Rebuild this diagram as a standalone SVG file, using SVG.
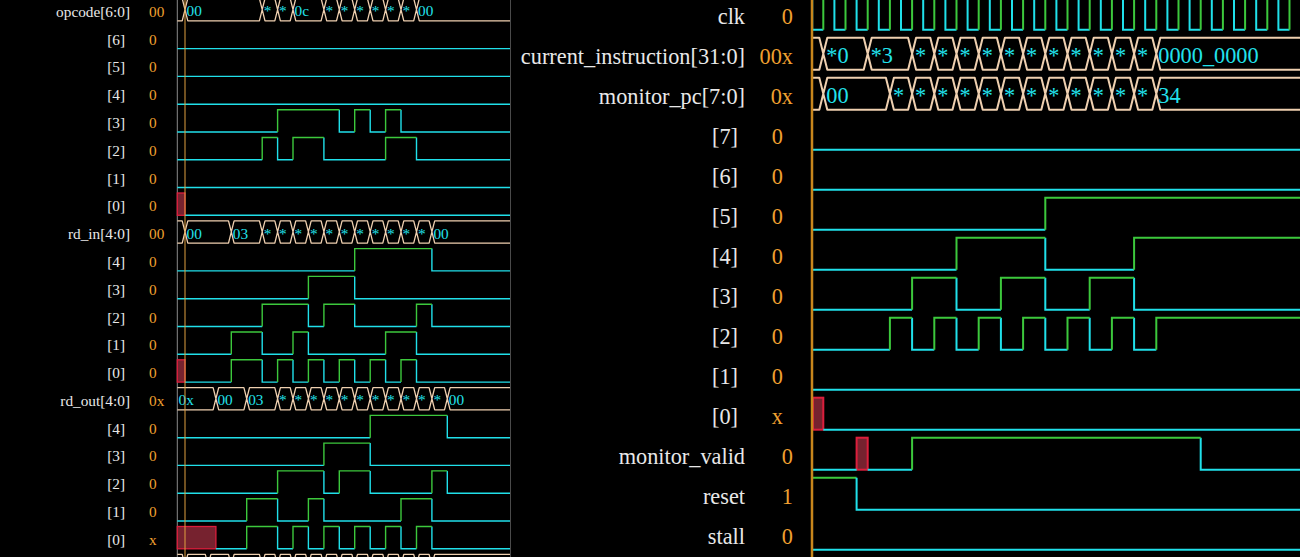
<svg xmlns="http://www.w3.org/2000/svg" width="1300" height="557" viewBox="0 0 1300 557">
<style>
.lbl{font-family:"Liberation Serif","Times New Roman",serif;fill:#e8e8e8}
.val{font-family:"Liberation Serif","Times New Roman",serif;fill:#f0a030}
.bt{font-family:"Liberation Serif","Times New Roman",serif;fill:#22e2ec}
.s{font-size:15.3px}
.b{font-size:22.3px}
.lo{fill:none;stroke:#20e0ea;stroke-linejoin:miter}
.hi{fill:none;stroke:#3cc83c;stroke-linejoin:miter}
.bus{fill:none;stroke:#efd0b0;stroke-linejoin:round}
.xx{fill:#76222f;stroke:#dc1e3c}
.L .lo,.L .hi{stroke-width:1.4}
.L .bus{stroke-width:1.3}
.L .xx{stroke-width:1.3}
.R .lo,.R .hi{stroke-width:2}
.R .bus{stroke-width:2}
.R .xx{stroke-width:2}
</style>
<rect width="1300" height="557" fill="#000"/>

<!-- LEFT PANEL -->
<g id="left-panel" class="L">
  <line x1="177.3" y1="0" x2="177.3" y2="557" stroke="#8a8a8a" stroke-width="1"/>
  <line x1="510.5" y1="0" x2="510.5" y2="557" stroke="#4a4a4a" stroke-width="1"/>

  <g id="opcode">
    <text class="lbl s" x="130" y="16.8" text-anchor="end">opcode[6:0]</text>
    <text class="val s" x="149" y="16.8">00</text>
    <path class="bus" d="M177.3 -1.5H182.2l2.8 11.15l2.8 -11.15H259.4l2.8 11.15l2.8 -11.15H274.8l2.8 11.15l2.8 -11.15H290.2l2.8 11.15l2.8 -11.15H321.1l2.8 11.15l2.8 -11.15H336.5l2.8 11.15l2.8 -11.15H351.9l2.8 11.15l2.8 -11.15H367.4l2.8 11.15l2.8 -11.15H382.8l2.8 11.15l2.8 -11.15H398.2l2.8 11.15l2.8 -11.15H413.7l2.8 11.15l2.8 -11.15H510 M177.3 20.8H182.2l2.8 -11.15l2.8 11.15H259.4l2.8 -11.15l2.8 11.15H274.8l2.8 -11.15l2.8 11.15H290.2l2.8 -11.15l2.8 11.15H321.1l2.8 -11.15l2.8 11.15H336.5l2.8 -11.15l2.8 11.15H351.9l2.8 -11.15l2.8 11.15H367.4l2.8 -11.15l2.8 11.15H382.8l2.8 -11.15l2.8 11.15H398.2l2.8 -11.15l2.8 11.15H413.7l2.8 -11.15l2.8 11.15H510"/>
    <g class="bt s">
      <text x="186.5" y="16.2">00</text><text x="263.7" y="16.2">*</text><text x="279.1" y="16.2">*</text><text x="294.5" y="16.2">0c</text>
      <text x="325.4" y="16.2">*</text><text x="340.8" y="16.2">*</text><text x="356.2" y="16.2">*</text><text x="371.7" y="16.2">*</text><text x="387.1" y="16.2">*</text><text x="402.5" y="16.2">*</text><text x="418" y="16.2">00</text>
    </g>
  </g>
  <g id="opcode-6"><text class="lbl s" x="125" y="44.6" text-anchor="end">[6]</text><text class="val s" x="149" y="44.6">0</text><path class="lo" d="M177.3 48.6H510"/></g>
  <g id="opcode-5"><text class="lbl s" x="125" y="72.4" text-anchor="end">[5]</text><text class="val s" x="149" y="72.4">0</text><path class="lo" d="M177.3 76.4H510"/></g>
  <g id="opcode-4"><text class="lbl s" x="125" y="100.2" text-anchor="end">[4]</text><text class="val s" x="149" y="100.2">0</text><path class="lo" d="M177.3 104.2H510"/></g>
  <g id="opcode-3"><text class="lbl s" x="125" y="128" text-anchor="end">[3]</text><text class="val s" x="149" y="128">0</text>
    <path class="lo" d="M177.3 132H277.6M339.3 109.7V132H354.7M370.2 109.7V132H385.6M401 109.7V132H510"/>
    <path class="hi" d="M277.6 132V109.7H339.3M354.7 132V109.7H370.2M385.6 132V109.7H401"/></g>
  <g id="opcode-2"><text class="lbl s" x="125" y="155.8" text-anchor="end">[2]</text><text class="val s" x="149" y="155.8">0</text>
    <path class="lo" d="M177.3 159.8H262.2M277.6 137.5V159.8H293M323.9 137.5V159.8H385.6M416.5 137.5V159.8H510"/>
    <path class="hi" d="M262.2 159.8V137.5H277.6M293 159.8V137.5H323.9M385.6 159.8V137.5H416.5"/></g>
  <g id="opcode-1"><text class="lbl s" x="125" y="183.5" text-anchor="end">[1]</text><text class="val s" x="149" y="183.5">0</text><path class="lo" d="M177.3 187.5H510"/></g>
  <g id="opcode-0"><text class="lbl s" x="125" y="211.3" text-anchor="end">[0]</text><text class="val s" x="149" y="211.3">0</text>
    <rect class="xx" x="177.3" y="193" width="7.7" height="22.3"/><path class="lo" d="M185 215.3H510"/></g>

  <g id="rd_in">
    <text class="lbl s" x="130" y="239.1" text-anchor="end">rd_in[4:0]</text>
    <text class="val s" x="149" y="239.1">00</text>
    <path class="bus" d="M177.3 220.8H182.2l2.8 11.15l2.8 -11.15H228.5l2.8 11.15l2.8 -11.15H259.4l2.8 11.15l2.8 -11.15H274.8l2.8 11.15l2.8 -11.15H290.2l2.8 11.15l2.8 -11.15H305.6l2.8 11.15l2.8 -11.15H321.1l2.8 11.15l2.8 -11.15H336.5l2.8 11.15l2.8 -11.15H351.9l2.8 11.15l2.8 -11.15H367.4l2.8 11.15l2.8 -11.15H382.8l2.8 11.15l2.8 -11.15H398.2l2.8 11.15l2.8 -11.15H413.7l2.8 11.15l2.8 -11.15H429.1l2.8 11.15l2.8 -11.15H510 M177.3 243.1H182.2l2.8 -11.15l2.8 11.15H228.5l2.8 -11.15l2.8 11.15H259.4l2.8 -11.15l2.8 11.15H274.8l2.8 -11.15l2.8 11.15H290.2l2.8 -11.15l2.8 11.15H305.6l2.8 -11.15l2.8 11.15H321.1l2.8 -11.15l2.8 11.15H336.5l2.8 -11.15l2.8 11.15H351.9l2.8 -11.15l2.8 11.15H367.4l2.8 -11.15l2.8 11.15H382.8l2.8 -11.15l2.8 11.15H398.2l2.8 -11.15l2.8 11.15H413.7l2.8 -11.15l2.8 11.15H429.1l2.8 -11.15l2.8 11.15H510"/>
    <g class="bt s">
      <text x="186.5" y="238.5">00</text><text x="232.8" y="238.5">03</text>
      <text x="263.7" y="238.5">*</text><text x="279.1" y="238.5">*</text><text x="294.5" y="238.5">*</text><text x="309.9" y="238.5">*</text><text x="325.4" y="238.5">*</text><text x="340.8" y="238.5">*</text><text x="356.2" y="238.5">*</text><text x="371.7" y="238.5">*</text><text x="387.1" y="238.5">*</text><text x="402.5" y="238.5">*</text><text x="418" y="238.5">*</text>
      <text x="433.4" y="238.5">00</text>
    </g>
  </g>
  <g id="rd_in-4"><text class="lbl s" x="125" y="266.9" text-anchor="end">[4]</text><text class="val s" x="149" y="266.9">0</text>
    <path class="lo" d="M177.3 270.9H354.7M431.9 248.6V270.9H510"/>
    <path class="hi" d="M354.7 270.9V248.6H431.9"/></g>
  <g id="rd_in-3"><text class="lbl s" x="125" y="294.7" text-anchor="end">[3]</text><text class="val s" x="149" y="294.7">0</text>
    <path class="lo" d="M177.3 298.7H308.4M354.7 276.4V298.7H510"/>
    <path class="hi" d="M308.4 298.7V276.4H354.7"/></g>
  <g id="rd_in-2"><text class="lbl s" x="125" y="322.5" text-anchor="end">[2]</text><text class="val s" x="149" y="322.5">0</text>
    <path class="lo" d="M177.3 326.5H262.2M308.4 304.2V326.5H323.9M354.7 304.2V326.5H416.5M431.9 304.2V326.5H510"/>
    <path class="hi" d="M262.2 326.5V304.2H308.4M323.9 326.5V304.2H354.7M416.5 326.5V304.2H431.9"/></g>
  <g id="rd_in-1"><text class="lbl s" x="125" y="350.3" text-anchor="end">[1]</text><text class="val s" x="149" y="350.3">0</text>
    <path class="lo" d="M177.3 354.3H231.3M262.2 332V354.3H293M308.4 332V354.3H385.6M416.5 332V354.3H510"/>
    <path class="hi" d="M231.3 354.3V332H262.2M293 354.3V332H308.4M385.6 354.3V332H416.5"/></g>
  <g id="rd_in-0"><text class="lbl s" x="125" y="378.1" text-anchor="end">[0]</text><text class="val s" x="149" y="378.1">0</text>
    <rect class="xx" x="177.3" y="359.8" width="7.7" height="22.3"/>
    <path class="lo" d="M185 382.1H231.3M262.2 359.8V382.1H277.6M293 359.8V382.1H308.4M323.9 359.8V382.1H339.3M354.7 359.8V382.1H370.2M385.6 359.8V382.1H401M416.5 359.8V382.1H510"/>
    <path class="hi" d="M231.3 382.1V359.8H262.2M277.6 382.1V359.8H293M308.4 382.1V359.8H323.9M339.3 382.1V359.8H354.7M370.2 382.1V359.8H385.6M401 382.1V359.8H416.5"/></g>

  <g id="rd_out">
    <text class="lbl s" x="130" y="405.9" text-anchor="end">rd_out[4:0]</text>
    <text class="val s" x="149" y="405.9">0x</text>
    <path class="bus" d="M177.3 387.6H213.1l2.8 11.15l2.8 -11.15H243.9l2.8 11.15l2.8 -11.15H274.8l2.8 11.15l2.8 -11.15H290.2l2.8 11.15l2.8 -11.15H305.6l2.8 11.15l2.8 -11.15H321.1l2.8 11.15l2.8 -11.15H336.5l2.8 11.15l2.8 -11.15H351.9l2.8 11.15l2.8 -11.15H367.4l2.8 11.15l2.8 -11.15H382.8l2.8 11.15l2.8 -11.15H398.2l2.8 11.15l2.8 -11.15H413.7l2.8 11.15l2.8 -11.15H429.1l2.8 11.15l2.8 -11.15H444.5l2.8 11.15l2.8 -11.15H510 M177.3 409.9H213.1l2.8 -11.15l2.8 11.15H243.9l2.8 -11.15l2.8 11.15H274.8l2.8 -11.15l2.8 11.15H290.2l2.8 -11.15l2.8 11.15H305.6l2.8 -11.15l2.8 11.15H321.1l2.8 -11.15l2.8 11.15H336.5l2.8 -11.15l2.8 11.15H351.9l2.8 -11.15l2.8 11.15H367.4l2.8 -11.15l2.8 11.15H382.8l2.8 -11.15l2.8 11.15H398.2l2.8 -11.15l2.8 11.15H413.7l2.8 -11.15l2.8 11.15H429.1l2.8 -11.15l2.8 11.15H444.5l2.8 -11.15l2.8 11.15H510"/>
    <g class="bt s">
      <text x="178.5" y="405.3">0x</text><text x="217.4" y="405.3">00</text><text x="248.2" y="405.3">03</text>
      <text x="279.1" y="405.3">*</text><text x="294.5" y="405.3">*</text><text x="309.9" y="405.3">*</text><text x="325.4" y="405.3">*</text><text x="340.8" y="405.3">*</text><text x="356.2" y="405.3">*</text><text x="371.7" y="405.3">*</text><text x="387.1" y="405.3">*</text><text x="402.5" y="405.3">*</text><text x="418" y="405.3">*</text><text x="433.4" y="405.3">*</text>
      <text x="448.8" y="405.3">00</text>
    </g>
  </g>
  <g id="rd_out-4"><text class="lbl s" x="125" y="433.7" text-anchor="end">[4]</text><text class="val s" x="149" y="433.7">0</text>
    <path class="lo" d="M177.3 437.7H370.2M447.3 415.4V437.7H510"/>
    <path class="hi" d="M370.2 437.7V415.4H447.3"/></g>
  <g id="rd_out-3"><text class="lbl s" x="125" y="461.4" text-anchor="end">[3]</text><text class="val s" x="149" y="461.4">0</text>
    <path class="lo" d="M177.3 465.4H323.9M370.2 443.1V465.4H510"/>
    <path class="hi" d="M323.9 465.4V443.1H370.2"/></g>
  <g id="rd_out-2"><text class="lbl s" x="125" y="489.2" text-anchor="end">[2]</text><text class="val s" x="149" y="489.2">0</text>
    <path class="lo" d="M177.3 493.2H277.6M323.9 470.9V493.2H339.3M370.2 470.9V493.2H431.9M447.3 470.9V493.2H510"/>
    <path class="hi" d="M277.6 493.2V470.9H323.9M339.3 493.2V470.9H370.2M431.9 493.2V470.9H447.3"/></g>
  <g id="rd_out-1"><text class="lbl s" x="125" y="517" text-anchor="end">[1]</text><text class="val s" x="149" y="517">0</text>
    <path class="lo" d="M177.3 521H246.7M277.6 498.7V521H308.4M323.9 498.7V521H401M431.9 498.7V521H510"/>
    <path class="hi" d="M246.7 521V498.7H277.6M308.4 521V498.7H323.9M401 521V498.7H431.9"/></g>
  <g id="rd_out-0"><text class="lbl s" x="125" y="544.8" text-anchor="end">[0]</text><text class="val s" x="149" y="544.8">x</text>
    <rect class="xx" x="177.3" y="526.5" width="38.6" height="22.3"/>
    <path class="lo" d="M215.9 548.8H246.7M277.6 526.5V548.8H293M308.4 526.5V548.8H323.9M339.3 526.5V548.8H354.7M370.2 526.5V548.8H385.6M401 526.5V548.8H416.5M431.9 526.5V548.8H510"/>
    <path class="hi" d="M246.7 548.8V526.5H277.6M293 548.8V526.5H308.4M323.9 548.8V526.5H339.3M354.7 548.8V526.5H370.2M385.6 548.8V526.5H401M416.5 548.8V526.5H431.9"/></g>
  <g id="next-bus">
    <path class="bus" d="M177.3 554.3H182.2l2.8 11.15l2.8 -11.15H205.3l2.8 11.15l2.8 -11.15H228.5l2.8 11.15l2.8 -11.15H259.4l2.8 11.15l2.8 -11.15H274.8l2.8 11.15l2.8 -11.15H290.2l2.8 11.15l2.8 -11.15H305.6l2.8 11.15l2.8 -11.15H321.1l2.8 11.15l2.8 -11.15H336.5l2.8 11.15l2.8 -11.15H351.9l2.8 11.15l2.8 -11.15H367.4l2.8 11.15l2.8 -11.15H382.8l2.8 11.15l2.8 -11.15H398.2l2.8 11.15l2.8 -11.15H413.7l2.8 11.15l2.8 -11.15H429.1l2.8 11.15l2.8 -11.15H510"/>
  </g>
  <line x1="185" y1="0" x2="185" y2="557" stroke="#e0a040" stroke-width="1"/>
</g>

<!-- RIGHT PANEL -->
<g id="right-panel" class="R">
  <g id="clk">
    <text class="lbl b" x="745" y="24.2" text-anchor="end">clk</text>
    <text class="val b" x="793" y="24.2" text-anchor="end">0</text>
    <path class="lo" d="M812.2 -2.3V29.7H823.3M834.4 -2.3V29.7H845.5M856.6 -2.3V29.7H867.7M878.8 -2.3V29.7H889.9M901 -2.3V29.7H912.1M923.2 -2.3V29.7H934.3M945.4 -2.3V29.7H956.5M967.6 -2.3V29.7H978.7M989.8 -2.3V29.7H1000.9M1012 -2.3V29.7H1023.1M1034.2 -2.3V29.7H1045.3M1056.4 -2.3V29.7H1067.5M1078.6 -2.3V29.7H1089.7M1100.8 -2.3V29.7H1111.9M1123 -2.3V29.7H1134.1M1145.2 -2.3V29.7H1156.3M1167.4 -2.3V29.7H1178.5M1189.6 -2.3V29.7H1200.7M1211.8 -2.3V29.7H1222.9M1234 -2.3V29.7H1245.1M1256.2 -2.3V29.7H1267.3M1278.4 -2.3V29.7H1289.5"/>
    <path class="hi" d="M823.3 29.7V-2.3M845.5 29.7V-2.3M867.7 29.7V-2.3M889.9 29.7V-2.3M912.1 29.7V-2.3M934.3 29.7V-2.3M956.5 29.7V-2.3M978.7 29.7V-2.3M1000.9 29.7V-2.3M1023.1 29.7V-2.3M1045.3 29.7V-2.3M1067.5 29.7V-2.3M1089.7 29.7V-2.3M1111.9 29.7V-2.3M1134.1 29.7V-2.3M1156.3 29.7V-2.3M1178.5 29.7V-2.3M1200.7 29.7V-2.3M1222.9 29.7V-2.3M1245.1 29.7V-2.3M1267.3 29.7V-2.3M1289.5 29.7V-2.3"/>
  </g>
  <g id="current_instruction">
    <text class="lbl b" x="745" y="64.2" text-anchor="end">current_instruction[31:0]</text>
    <text class="val b" x="793" y="64.2" text-anchor="end">00x</text>
    <path class="bus" d="M813 37.7H819.3l4 16l4 -16H863.7l4 16l4 -16H908.1l4 16l4 -16H930.3l4 16l4 -16H952.5l4 16l4 -16H974.7l4 16l4 -16H996.9l4 16l4 -16H1019.1l4 16l4 -16H1041.3l4 16l4 -16H1063.5l4 16l4 -16H1085.7l4 16l4 -16H1107.9l4 16l4 -16H1130.1l4 16l4 -16H1152.3l4 16l4 -16H1300 M813 69.7H819.3l4 -16l4 16H863.7l4 -16l4 16H908.1l4 -16l4 16H930.3l4 -16l4 16H952.5l4 -16l4 16H974.7l4 -16l4 16H996.9l4 -16l4 16H1019.1l4 -16l4 16H1041.3l4 -16l4 16H1063.5l4 -16l4 16H1085.7l4 -16l4 16H1107.9l4 -16l4 16H1130.1l4 -16l4 16H1152.3l4 -16l4 16H1300"/>
    <g class="bt b">
      <text x="826.3" y="63.2">*0</text><text x="870.7" y="63.2">*3</text>
      <text x="915.1" y="63.2">*</text><text x="937.3" y="63.2">*</text><text x="959.5" y="63.2">*</text><text x="981.7" y="63.2">*</text><text x="1003.9" y="63.2">*</text><text x="1026.1" y="63.2">*</text><text x="1048.3" y="63.2">*</text><text x="1070.5" y="63.2">*</text><text x="1092.7" y="63.2">*</text><text x="1114.9" y="63.2">*</text><text x="1137.1" y="63.2">*</text>
      <text x="1158.3" y="63.2">0000_0000</text>
    </g>
  </g>
  <g id="monitor_pc">
    <text class="lbl b" x="745" y="104.2" text-anchor="end">monitor_pc[7:0]</text>
    <text class="val b" x="793" y="104.2" text-anchor="end">0x</text>
    <path class="bus" d="M813 77.7H819.3l4 16l4 -16H885.9l4 16l4 -16H908.1l4 16l4 -16H930.3l4 16l4 -16H952.5l4 16l4 -16H974.7l4 16l4 -16H996.9l4 16l4 -16H1019.1l4 16l4 -16H1041.3l4 16l4 -16H1063.5l4 16l4 -16H1085.7l4 16l4 -16H1107.9l4 16l4 -16H1130.1l4 16l4 -16H1152.3l4 16l4 -16H1300 M813 109.7H819.3l4 -16l4 16H885.9l4 -16l4 16H908.1l4 -16l4 16H930.3l4 -16l4 16H952.5l4 -16l4 16H974.7l4 -16l4 16H996.9l4 -16l4 16H1019.1l4 -16l4 16H1041.3l4 -16l4 16H1063.5l4 -16l4 16H1085.7l4 -16l4 16H1107.9l4 -16l4 16H1130.1l4 -16l4 16H1152.3l4 -16l4 16H1300"/>
    <g class="bt b">
      <text x="826.3" y="103.2">00</text>
      <text x="892.9" y="103.2">*</text><text x="915.1" y="103.2">*</text><text x="937.3" y="103.2">*</text><text x="959.5" y="103.2">*</text><text x="981.7" y="103.2">*</text><text x="1003.9" y="103.2">*</text><text x="1026.1" y="103.2">*</text><text x="1048.3" y="103.2">*</text><text x="1070.5" y="103.2">*</text><text x="1092.7" y="103.2">*</text><text x="1114.9" y="103.2">*</text><text x="1137.1" y="103.2">*</text>
      <text x="1158.3" y="103.2">34</text>
    </g>
  </g>
  <g id="pc-7"><text class="lbl b" x="738" y="144.2" text-anchor="end">[7]</text><text class="val b" x="783" y="144.2" text-anchor="end">0</text><path class="lo" d="M813 149.7H1300"/></g>
  <g id="pc-6"><text class="lbl b" x="738" y="184.2" text-anchor="end">[6]</text><text class="val b" x="783" y="184.2" text-anchor="end">0</text><path class="lo" d="M813 189.7H1300"/></g>
  <g id="pc-5"><text class="lbl b" x="738" y="224.2" text-anchor="end">[5]</text><text class="val b" x="783" y="224.2" text-anchor="end">0</text>
    <path class="lo" d="M813 229.7H1045.3"/><path class="hi" d="M1045.3 229.7V197.7H1300"/></g>
  <g id="pc-4"><text class="lbl b" x="738" y="264.2" text-anchor="end">[4]</text><text class="val b" x="783" y="264.2" text-anchor="end">0</text>
    <path class="lo" d="M813 269.7H956.5M1045.3 237.7V269.7H1134.1"/>
    <path class="hi" d="M956.5 269.7V237.7H1045.3M1134.1 269.7V237.7H1300"/></g>
  <g id="pc-3"><text class="lbl b" x="738" y="304.2" text-anchor="end">[3]</text><text class="val b" x="783" y="304.2" text-anchor="end">0</text>
    <path class="lo" d="M813 309.7H912.1M956.5 277.7V309.7H1000.9M1045.3 277.7V309.7H1089.7M1134.1 277.7V309.7H1300"/>
    <path class="hi" d="M912.1 309.7V277.7H956.5M1000.9 309.7V277.7H1045.3M1089.7 309.7V277.7H1134.1"/></g>
  <g id="pc-2"><text class="lbl b" x="738" y="344.2" text-anchor="end">[2]</text><text class="val b" x="783" y="344.2" text-anchor="end">0</text>
    <path class="lo" d="M813 349.7H889.9M912.1 317.7V349.7H934.3M956.5 317.7V349.7H978.7M1000.9 317.7V349.7H1023.1M1045.3 317.7V349.7H1067.5M1089.7 317.7V349.7H1111.9M1134.1 317.7V349.7H1156.3"/>
    <path class="hi" d="M889.9 349.7V317.7H912.1M934.3 349.7V317.7H956.5M978.7 349.7V317.7H1000.9M1023.1 349.7V317.7H1045.3M1067.5 349.7V317.7H1089.7M1111.9 349.7V317.7H1134.1M1156.3 349.7V317.7H1300"/></g>
  <g id="pc-1"><text class="lbl b" x="738" y="384.2" text-anchor="end">[1]</text><text class="val b" x="783" y="384.2" text-anchor="end">0</text><path class="lo" d="M813 389.7H1300"/></g>
  <g id="pc-0"><text class="lbl b" x="738" y="424.2" text-anchor="end">[0]</text><text class="val b" x="783" y="424.2" text-anchor="end">x</text>
    <rect class="xx" x="813" y="397.7" width="10.3" height="32"/><path class="lo" d="M823.3 429.7H1300"/></g>
  <g id="monitor_valid"><text class="lbl b" x="745" y="464.2" text-anchor="end">monitor_valid</text><text class="val b" x="793" y="464.2" text-anchor="end">0</text>
    <rect class="xx" x="856.6" y="437.7" width="11.1" height="32"/>
    <path class="lo" d="M813 469.7H856.6M867.7 469.7H912.1M1200.7 437.7V469.7H1300"/>
    <path class="hi" d="M912.1 469.7V437.7H1200.7"/></g>
  <g id="reset"><text class="lbl b" x="745" y="504.2" text-anchor="end">reset</text><text class="val b" x="793" y="504.2" text-anchor="end">1</text>
    <path class="hi" d="M813 477.7H856.6"/><path class="lo" d="M856.6 477.7V509.7H1300"/></g>
  <g id="stall"><text class="lbl b" x="745" y="544.2" text-anchor="end">stall</text><text class="val b" x="793" y="544.2" text-anchor="end">0</text>
    <path class="lo" d="M813 549.7H1300"/></g>
  <line x1="812" y1="0" x2="812" y2="557" stroke="#c8861c" stroke-width="2.5"/>
</g>
</svg>
